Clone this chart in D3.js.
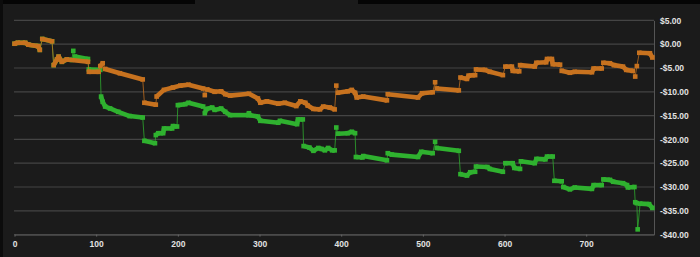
<!DOCTYPE html>
<html>
<head>
<meta charset="utf-8">
<script src="https://cdn.jsdelivr.net/npm/d3@7"></script>
<style>
  body { margin: 0; background: #1b1b1b; overflow: hidden; }
  text { font-family: "Liberation Sans", Arial, sans-serif; }
</style>
</head>
<body>
<script>
// cumulative P&L for two strategies (trade index -> dollars)
var orangeX = [0, 4, 13, 17, 29, 31, 34, 46, 48, 52, 54, 58, 64, 90, 91, 103, 105, 108, 111, 129, 157, 159, 173, 174, 183, 194, 203, 213, 231, 233, 236, 245, 253, 258, 264, 287, 298, 301, 309, 323, 331, 345, 350, 356, 359, 366, 374, 378, 386, 392, 394, 396, 408, 413, 417, 419, 427, 456, 457, 494, 499, 512, 515, 517, 544, 546, 554, 556, 564, 565, 576, 582, 598, 601, 609, 610, 618, 619, 637, 639, 651, 652, 658, 659, 668, 670, 680, 686, 707, 709, 719, 721, 729, 734, 745, 749, 757, 760, 762, 765, 778, 781];
var orangeY = [0.1, 0.3, 0.3, -0.1, -0.4, -1.2, 1.1, 0.6, -4.4, -3.2, -2.6, -3.7, -3.2, -3.7, -5.8, -5.8, -4.6, -4.0, -5.2, -6.1, -7.4, -12.3, -12.7, -11.0, -9.6, -9.1, -8.7, -8.5, -9.3, -10.7, -9.5, -10.0, -9.9, -10.5, -10.8, -10.4, -11.4, -12.3, -12.0, -12.5, -12.3, -13.0, -12.0, -12.3, -12.9, -13.6, -13.7, -13.1, -13.3, -13.7, -8.7, -10.2, -9.9, -9.6, -10.2, -11.2, -11.0, -11.8, -10.5, -11.2, -10.3, -10.1, -8.0, -9.3, -9.7, -7.0, -7.3, -6.6, -6.5, -5.3, -5.4, -5.8, -6.5, -4.7, -4.7, -5.6, -5.7, -4.4, -4.7, -3.9, -3.8, -3.1, -3.1, -4.2, -4.3, -5.6, -6.0, -5.8, -5.9, -5.1, -5.1, -3.9, -4.0, -4.4, -4.7, -5.4, -5.6, -6.8, -4.6, -1.8, -1.9, -2.8];

var greenX = [0, 4, 13, 17, 29, 31, 34, 46, 48, 52, 54, 58, 64, 70, 72, 74, 90, 91, 105, 106, 108, 111, 117, 127, 141, 157, 159, 172, 173, 176, 182, 183, 193, 194, 199, 200, 209, 213, 231, 233, 235, 242, 245, 253, 258, 264, 286, 287, 288, 298, 301, 323, 325, 346, 347, 353, 354, 361, 366, 372, 376, 380, 384, 389, 392, 394, 396, 408, 413, 417, 418, 426, 427, 456, 457, 462, 494, 498, 512, 515, 517, 544, 546, 554, 558, 564, 565, 579, 582, 598, 601, 610, 612, 619, 620, 637, 639, 650, 652, 659, 661, 670, 672, 680, 686, 707, 709, 719, 721, 729, 733, 745, 750, 751, 759, 760, 762, 763, 766, 777, 781];
var greenY = [0.1, 0.3, 0.3, -0.1, -0.4, -1.2, 1.1, 0.6, -4.4, -3.2, -2.6, -3.7, -3.2, -3.3, -1.4, -2.6, -3.1, -5.3, -5.4, -11.0, -12.1, -13.1, -13.5, -14.2, -15.1, -15.4, -20.3, -20.8, -19.1, -18.7, -18.7, -17.7, -17.7, -17.2, -17.3, -12.8, -12.6, -12.3, -13.1, -14.5, -13.6, -13.3, -13.8, -13.5, -14.2, -14.9, -14.9, -14.5, -14.9, -15.2, -16.1, -16.5, -16.1, -16.8, -15.8, -15.8, -21.4, -21.7, -22.4, -21.8, -22.0, -22.3, -21.8, -22.3, -22.3, -17.5, -18.8, -18.7, -18.4, -18.7, -23.7, -23.8, -23.5, -24.4, -22.9, -23.2, -23.7, -22.6, -22.9, -20.5, -21.8, -22.4, -27.3, -27.6, -26.9, -26.8, -25.7, -25.8, -26.2, -26.8, -25.0, -25.0, -26.0, -26.2, -24.6, -25.0, -24.1, -24.2, -23.6, -23.6, -28.7, -28.8, -30.0, -30.5, -30.1, -30.4, -29.6, -29.6, -28.4, -28.5, -28.9, -29.2, -29.6, -30.1, -30.0, -33.2, -33.4, -38.9, -33.5, -33.6, -34.4];

var yTicks = [5, 0, -5, -10, -15, -20, -25, -30, -35, -40];
var xTicks = [0, 100, 200, 300, 400, 500, 600, 700];

var width = 700, height = 257;

var svg = d3.select("body").append("svg")
  .attr("width", width)
  .attr("height", height);

svg.append("rect").attr("width", width).attr("height", height).attr("fill", "#1b1b1b");
// dark strips along the top / left edge of the screenshot
svg.append("rect").attr("x", 0).attr("y", 0).attr("width", 195).attr("height", 4).attr("fill", "#050505");
svg.append("rect").attr("x", 358).attr("y", 0).attr("width", 342).attr("height", 4).attr("fill", "#050505");
svg.append("rect").attr("x", 0).attr("y", 0).attr("width", 3).attr("height", height).attr("fill", "#0c0c0c");

var x = d3.scaleLinear().domain([0, 783]).range([14.5, 654]);
var y = d3.scaleLinear().domain([-40, 5]).range([234.6, 20.4]);

// gridlines
svg.append("g").selectAll("line")
  .data(yTicks)
  .enter().append("line")
  .attr("x1", 14).attr("x2", 654)
  .attr("y1", function(d){ return y(d); })
  .attr("y2", function(d){ return y(d); })
  .attr("stroke", "#444")
  .attr("stroke-width", 1.2);

function money(d) {
  return (d < 0 ? "-" : "") + "$" + Math.abs(d).toFixed(2);
}

// right axis
var yAxis = svg.append("g")
  .attr("transform", "translate(654,0)")
  .call(d3.axisRight(y).tickValues(yTicks).tickSize(0).tickPadding(6).tickFormat(money));
yAxis.select(".domain").attr("stroke", "#555");
yAxis.selectAll("text").attr("fill", "#e2e2e2").attr("font-size", "8.5px").attr("font-weight", "bold");

// bottom axis
var xAxis = svg.append("g")
  .attr("transform", "translate(0,234.6)")
  .call(d3.axisBottom(x).tickValues(xTicks).tickSize(2).tickPadding(4).tickSizeOuter(0));
xAxis.select(".domain").attr("stroke", "#555");
xAxis.selectAll(".tick line").attr("stroke", "#666");
xAxis.selectAll("text").attr("fill", "#e2e2e2").attr("font-size", "8.5px").attr("font-weight", "bold");

function drawSeries(xs, ys, color) {
  var pts = xs.map(function(d, i){ return [x(d), y(ys[i]), ys[i], d]; });
  var segs = [];
  for (var i = 1; i < pts.length; i++) segs.push([pts[i-1], pts[i]]);
  // a jump between neighbouring trades is only a thin connector,
  // everything else looks like a thick band of overlapping markers
  function isJump(s) {
    return Math.abs(s[1][2] - s[0][2]) > 1.1 && (s[1][3] - s[0][3]) <= 3;
  }
  var g = svg.append("g");
  g.selectAll("line")
    .data(segs)
    .enter().append("line")
    .attr("x1", function(s){ return s[0][0]; })
    .attr("y1", function(s){ return s[0][1]; })
    .attr("x2", function(s){ return s[1][0]; })
    .attr("y2", function(s){ return s[1][1]; })
    .attr("stroke", color)
    .attr("stroke-opacity", function(s){ return isJump(s) ? 0.75 : 1; })
    .attr("stroke-width", function(s){ return isJump(s) ? 1 : 4.6; });
  g.selectAll("rect")
    .data(pts)
    .enter().append("rect")
    .attr("x", function(p){ return p[0] - 2.3; })
    .attr("y", function(p){ return p[1] - 2.3; })
    .attr("width", 4.6)
    .attr("height", 4.6)
    .attr("fill", color);
}

drawSeries(greenX, greenY, "#2fb12f");
drawSeries(orangeX, orangeY, "#c7721f");
</script>
</body>
</html>
